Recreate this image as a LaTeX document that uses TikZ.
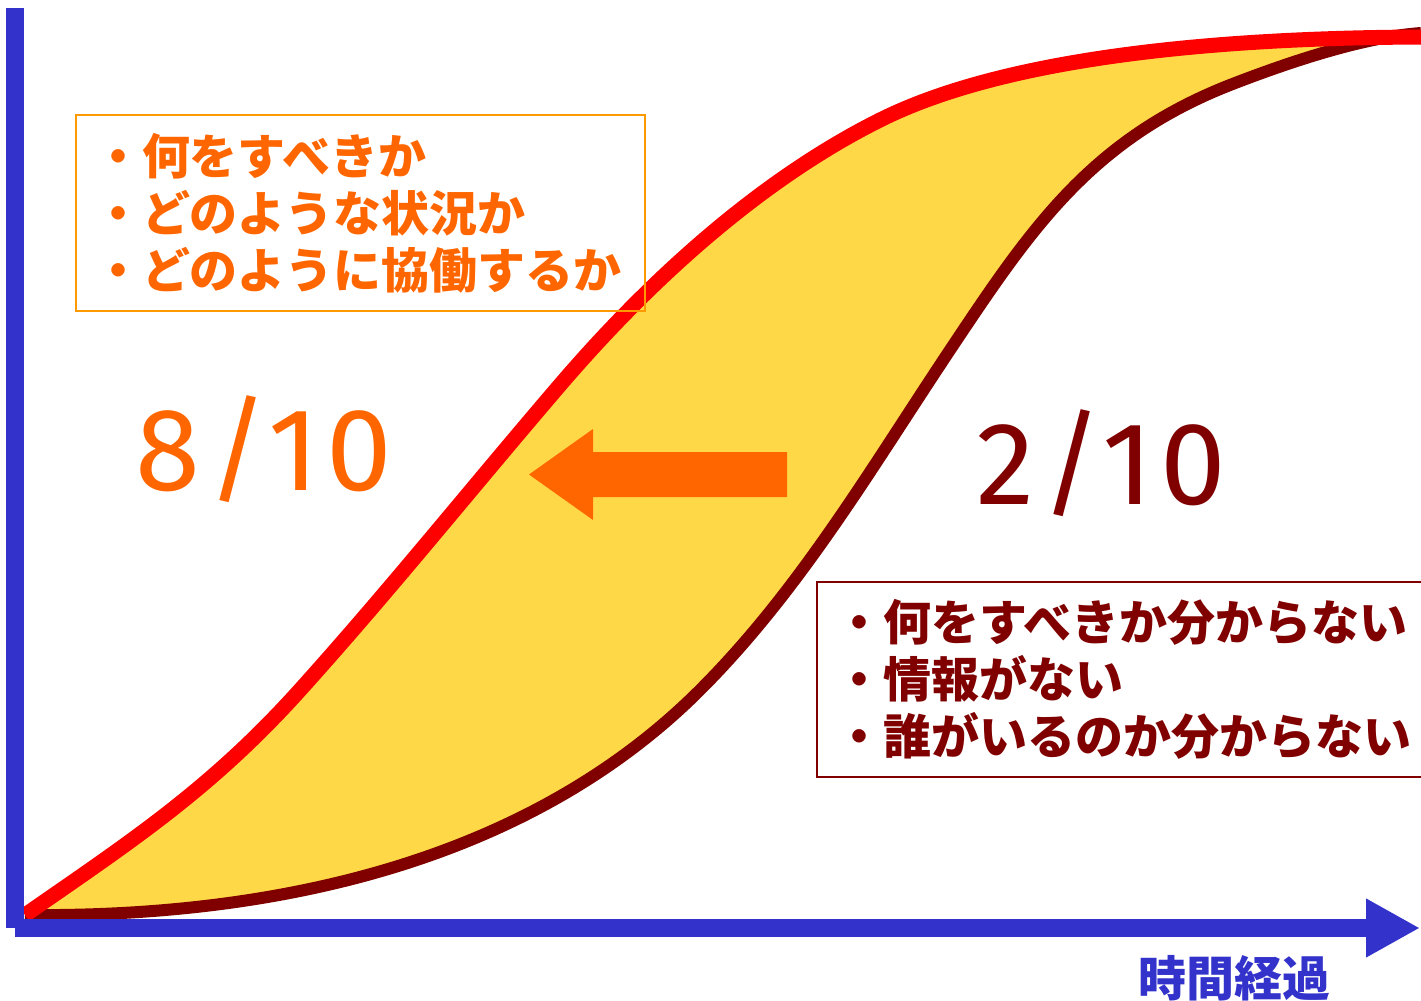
\documentclass[tikz,border=0pt]{standalone}
\usepackage{fontspec}
\setmainfont{Fira Sans}
\newfontfamily\jp{Noto Sans CJK JP}
\usetikzlibrary{arrows.meta}
\definecolor{axisblue}{HTML}{3333CC}
\definecolor{maroon}{HTML}{800000}
\definecolor{gapfill}{HTML}{FFD847}
\definecolor{orangetxt}{HTML}{FF6600}
\definecolor{orangeline}{HTML}{FF9900}

\begin{document}
\begin{tikzpicture}[x=0.5pt,y=-0.5pt,
        axis/.style={axisblue,line width=9pt},
        jtext/.style={font=\jp\bfseries\fontsize{24pt}{28.5pt}\selectfont,inner ysep=0pt},
        listbox/.style={jtext,draw,line width=1pt,align=left,inner xsep=9pt},
        frac/.style={font=\fontsize{58.8pt}{60pt}\selectfont\addfontfeature{LetterSpace=6},inner sep=0pt,anchor=base west}]
    \useasboundingbox (0,0) rectangle (1421,1001);

    % band between the two curves
    \fill[gapfill] (25,915) .. controls (130,842) and (210,790) .. (300,690)
        .. controls (390,590) and (470,490) .. (560,385)
        .. controls (650,280) and (760,180) .. (880,120)
        .. controls (1000,60) and (1200,38) .. (1421,37)
        -- (1421,33) .. controls (1380,36) and (1320,50) .. (1230,85)
        .. controls (1090,140) and (1030,230) .. (950,350)
        .. controls (870,470) and (800,590) .. (700,690)
        .. controls (540,850) and (300,918) .. (25,915) -- cycle;
    \draw[maroon,line width=6pt] (25,915) .. controls (300,918) and (540,850) .. (700,690)
        .. controls (800,590) and (870,470) .. (950,350)
        .. controls (1030,230) and (1090,140) .. (1230,85)
        .. controls (1320,50) and (1380,36) .. (1421,33);
    \draw[red,line width=7.5pt] (25,915) .. controls (130,842) and (210,790) .. (300,690)
        .. controls (390,590) and (470,490) .. (560,385)
        .. controls (650,280) and (760,180) .. (880,120)
        .. controls (1000,60) and (1200,38) .. (1421,37);

    % axes
    \coordinate (o) at (15,928);
    \coordinate (ytop) at (15,8);
    \coordinate (xend) at (1420,928);
    \draw[axis] (o) -- (ytop);
    \draw[axis,-{Triangle[length=27pt,width=27.5pt]}] (o) -- (xend);
    \node[jtext,text=axisblue,inner sep=0pt] (xlab) at (1234.5,978) {時間経過};

    % shift arrow
    \fill[orangetxt] (787,452) -- (593,452) -- (593,429) -- (529,474.5) -- (593,520) -- (593,497) -- (787,497) -- cycle;

    \node[frac,text=orangetxt] (eight) at (135,490) {8/10};
    \node[frac,text=maroon] (two) at (976,504) {2/10};

    \node[listbox,text=orangetxt,draw=orangeline,minimum width=284.5pt,minimum height=98pt,text width=266.5pt] (good) at (360.5,213)
        {・何をすべきか\\・どのような状況か\\・どのように協働するか};
    \node[listbox,text=maroon,draw=maroon,minimum width=311.5pt,minimum height=97.5pt,text width=293.5pt] (bad) at (1128.5,679.5)
        {・何をすべきか分からない\\・情報がない\\・誰がいるのか分からない};
\end{tikzpicture}
\end{document}
